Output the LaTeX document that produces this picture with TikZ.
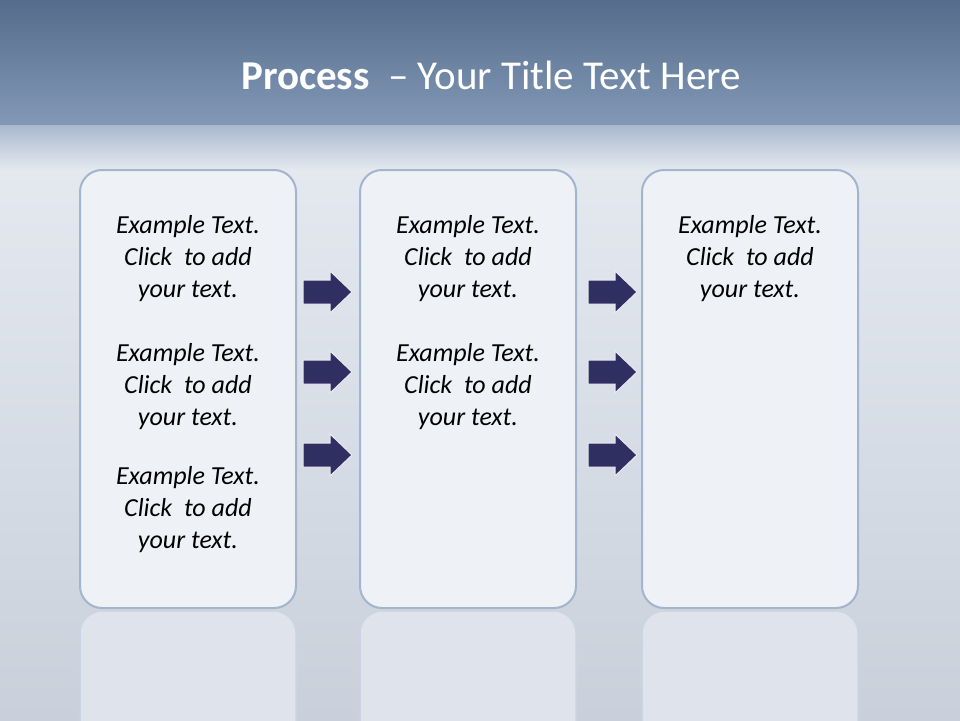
\documentclass[tikz,border=0pt]{standalone}
\usepackage{fontspec}
\setmainfont{Carlito}
\definecolor{topA}{HTML}{566C8C}
\definecolor{topB}{HTML}{8298B6}
\definecolor{bgA}{HTML}{E4E9F0}
\definecolor{bgB}{HTML}{C9D0DB}
\definecolor{boxfill}{HTML}{EEF2F7}
\definecolor{boxline}{HTML}{A3B4CD}
\definecolor{arrowfill}{HTML}{2F2F62}
\tikzset{
  panel/.style={draw=boxline, line width=2pt, fill=boxfill, rounded corners=22pt, minimum width=216pt, minimum height=438pt},
  refl/.style={draw=boxline!40!bgA, line width=1.5pt, fill=boxfill!60!bgB, rounded corners=22pt, minimum width=216pt, minimum height=438pt},
  txt/.style={font=\fontsize{26}{32}\selectfont\itshape, align=center, text=black},
  arr/.style={draw=white!75!boxline, line width=1pt, fill=arrowfill}
}
\newcommand\blockarrow[3]{% name, x-left, y-center
  \coordinate (#1) at (#2+25,#3);
  \draw[arr] (#2,#3-12) -- (#2+27,#3-12) -- (#2+27,#3-21) -- (#2+49,#3) -- (#2+27,#3+21) -- (#2+27,#3+12) -- (#2,#3+12) -- cycle;}
\begin{document}
\begin{tikzpicture}[x=1pt,y=-1pt]
\useasboundingbox (0,0) rectangle (960,720);
\shade[top color=topA, bottom color=topB] (0,0) rectangle (960,125);
\shade[top color=topB!60!bgA, bottom color=bgA] (0,125) rectangle (960,170);
\shade[top color=bgA, bottom color=bgB] (0,170) rectangle (960,720);
\node[font=\fontsize{41}{48}\selectfont, text=white] (title) at (491,75) {\textbf{Process} \ – Your Title Text Here};
\begin{scope}
\clip (0,612) rectangle (960,720);
\node[refl] (r1) at (188,830) {};
\node[refl] (r2) at (468,830) {};
\node[refl] (r3) at (750,830) {};
\end{scope}
\node[panel] (p1) at (188,389) {};
\node[panel] (p2) at (468,389) {};
\node[panel] (p3) at (750,389) {};
\node[txt] (t11) at (188,259) {Example Text.\\Click \ to add\\your text.};
\node[txt] (t12) at (188,387) {Example Text.\\Click \ to add\\your text.};
\node[txt] (t13) at (188,510) {Example Text.\\Click \ to add\\your text.};
\node[txt] (t21) at (468,259) {Example Text.\\Click \ to add\\your text.};
\node[txt] (t22) at (468,387) {Example Text.\\Click \ to add\\your text.};
\node[txt] (t31) at (750,259) {Example Text.\\Click \ to add\\your text.};
\blockarrow{a1}{303}{292}
\blockarrow{a2}{303}{372}
\blockarrow{a3}{303}{455}
\blockarrow{a4}{588}{292}
\blockarrow{a5}{588}{372}
\blockarrow{a6}{588}{455}
\end{tikzpicture}
\end{document}
